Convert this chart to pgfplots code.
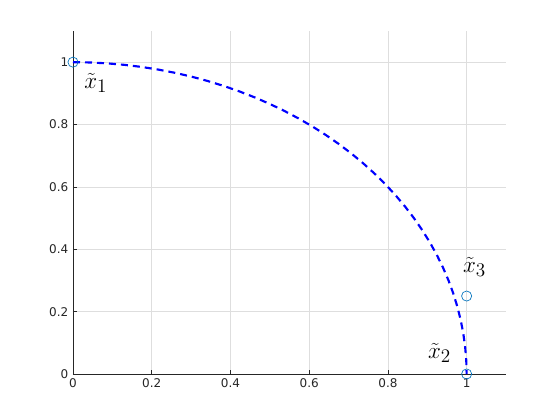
\documentclass[border=0pt]{standalone}
\usepackage[no-math]{fontspec}
\setmainfont{DejaVu Sans}
\usepackage{pgfplots}
\pgfplotsset{compat=1.18}
\definecolor{mblue}{rgb}{0,0.447,0.741}
\definecolor{tickc}{rgb}{0.15,0.15,0.15}
\begin{document}
\begin{tikzpicture}
\begin{axis}[name=ax, at={(0,0)}, anchor=south west,
  scale only axis, width=324.75pt, height=257.25pt,
  xmin=0, xmax=1.1, ymin=0, ymax=1.1,
  axis x line=bottom, axis y line=left,
  axis line style={-, tickc, line width=0.5pt},
  xtick={0,0.2,0.4,0.6,0.8,1}, ytick={0,0.2,0.4,0.6,0.8,1},
  xticklabels={0,0.2,0.4,0.6,0.8,1}, yticklabels={0,0.2,0.4,0.6,0.8,1},
  tick align=inside, major tick length=3pt,
  tick style={tickc, line width=0.5pt},
  ticklabel style={font=\fontsize{9}{10}\selectfont, text=tickc},
  /pgf/number format/assume math mode=true,
  grid=major, grid style={color=black!13, line width=0.5pt},
  clip=false,
]
\addplot[blue, line width=1.6pt, dash pattern=on 5.25pt off 3.75pt] coordinates {
(0,1) (0.04362,0.99905) (0.08716,0.99619) (0.13053,0.99144) (0.17365,0.98481) (0.21644,0.97630) (0.25882,0.96593) (0.30071,0.95372) (0.34202,0.93969) (0.38268,0.92388) (0.42262,0.90631) (0.46175,0.88701) (0.5,0.86603) (0.53730,0.84339) (0.57358,0.81915) (0.60876,0.79335) (0.64279,0.76604) (0.67559,0.73728) (0.70711,0.70711) (0.73728,0.67559) (0.76604,0.64279) (0.79335,0.60876) (0.81915,0.57358) (0.84339,0.53730) (0.86603,0.5) (0.88701,0.46175) (0.90631,0.42262) (0.92388,0.38268) (0.93969,0.34202) (0.95372,0.30071) (0.96593,0.25882) (0.97630,0.21644) (0.98481,0.17365) (0.99144,0.13053) (0.99619,0.08716) (0.99905,0.04362) (1,0)
};
\addplot[only marks, mark=o, mark size=3.8pt, mark options={mblue, line width=0.5pt}] coordinates {(0,1) (1,0) (1,0.25)};
\node[font=\fontsize{19}{22}\selectfont] at (axis cs:0.058,0.933) {$\tilde{x}_1$};
\node[font=\fontsize{19}{22}\selectfont] at (axis cs:0.931,0.067) {$\tilde{x}_2$};
\node[font=\fontsize{19}{22}\selectfont] at (axis cs:1.02,0.343) {$\tilde{x}_3$};
\end{axis}
\path (ax.south west) ++(-54.75pt,-34.5pt) coordinate (bl);
\path (ax.north east) ++(40.5pt,23.25pt) coordinate (tr);
\path (bl) rectangle (tr);
\end{tikzpicture}
\end{document}
